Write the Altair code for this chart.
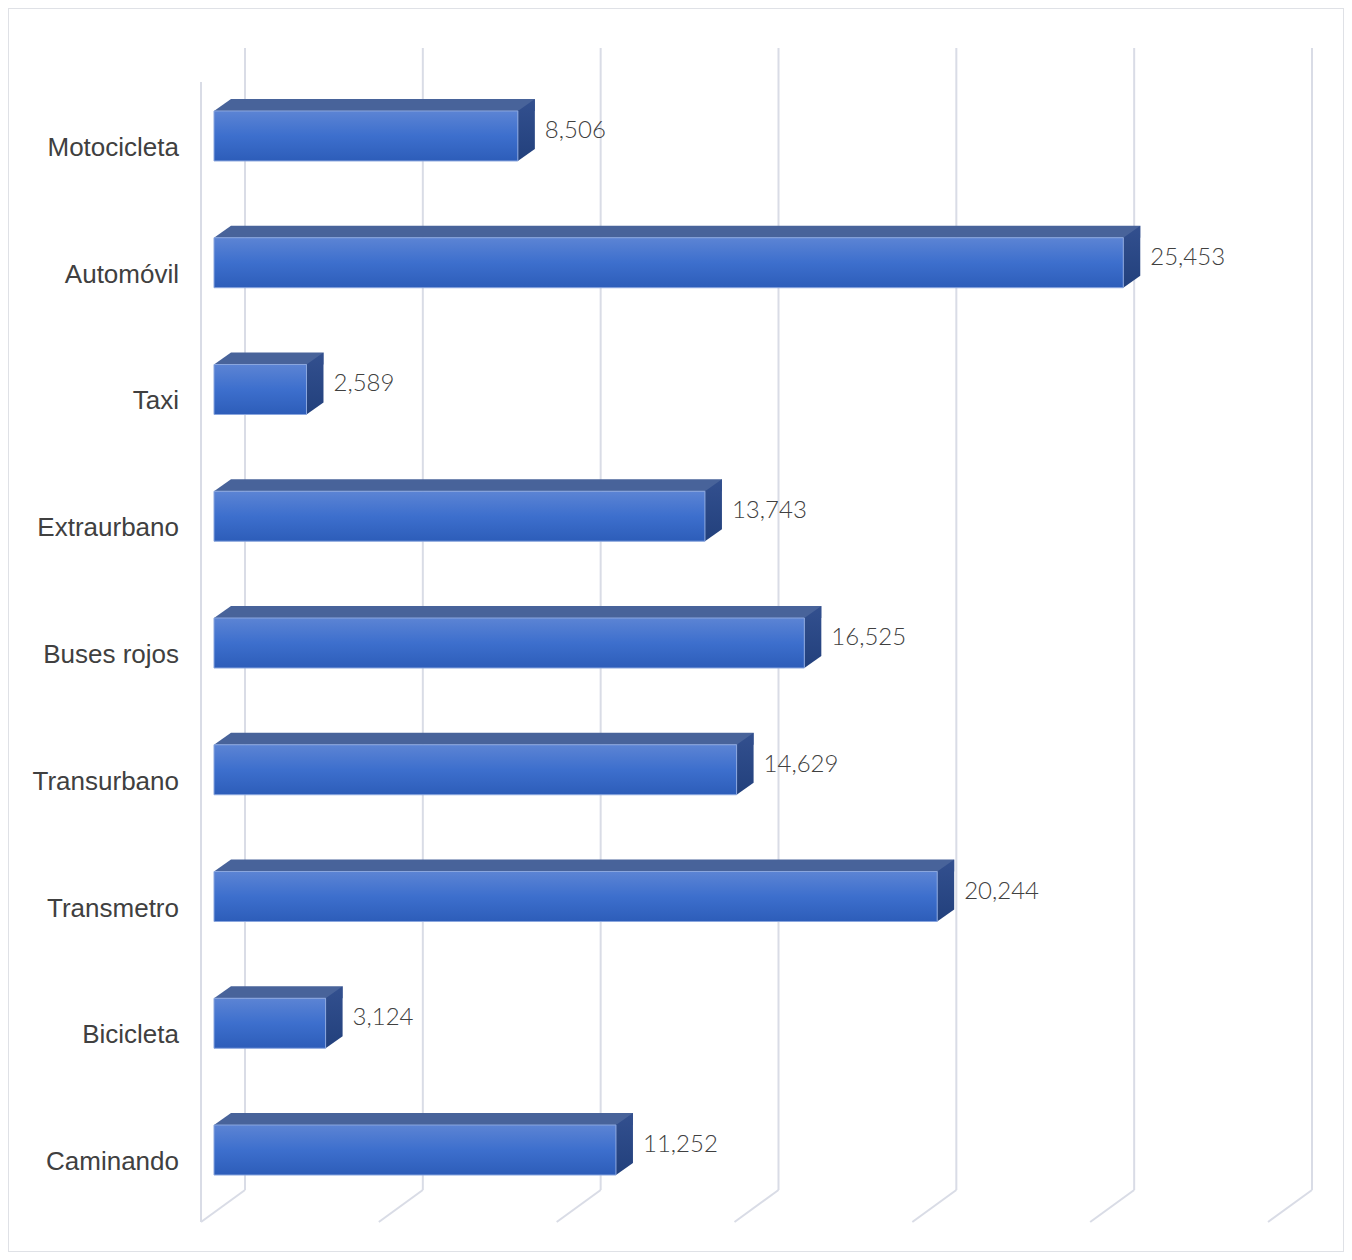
import altair as alt
import pandas as pd

categories = ["Motocicleta", "Automóvil", "Taxi", "Extraurbano", "Buses rojos",
              "Transurbano", "Transmetro", "Bicicleta", "Caminando"]
values = [8506, 25453, 2589, 13743, 16525, 14629, 20244, 3124, 11252]
ticks = [0, 5000, 10000, 15000, 20000, 25000, 30000]

bars = pd.DataFrame({"category": categories, "value": values, "start": [0] * len(values)})
grid = pd.DataFrame({"tick": ticks})

x_front = alt.Scale(domain=[0, 30000], range=[206, 1277.7], nice=False, zero=True)
x_back = alt.Scale(domain=[0, 30000], range=[237, 1304], nice=False, zero=True)
y_sc = alt.Scale(domain=categories, range=[64.6, 1205.4], paddingInner=0, paddingOuter=0)

grid_col = "#d9dce6"
top_col = "#48639a"

front_grad = alt.Gradient(
    gradient="linear", x1=0, x2=0, y1=0, y2=1,
    stops=[alt.GradientStop(color="#5c84d4", offset=0),
           alt.GradientStop(color="#3d6fcd", offset=0.5),
           alt.GradientStop(color="#2d5db9", offset=1)])
side_grad = alt.Gradient(
    gradient="linear", x1=0, x2=0, y1=0, y2=1,
    stops=[alt.GradientStop(color="#33508f", offset=0),
           alt.GradientStop(color="#22407c", offset=1)])

Y = alt.Y("category:N", scale=y_sc, axis=None, sort=categories)

gridlines = alt.Chart(grid).mark_rule(color=grid_col, strokeWidth=2).encode(
    x=alt.X("tick:Q", scale=x_back, axis=None),
    y=alt.value(40), y2=alt.value(1182))

floor = alt.Chart(grid).mark_point(
    shape="M0,0L-4.4,3.2", size=400, filled=False, stroke=grid_col,
    strokeWidth=2, opacity=1).encode(
    x=alt.X("tick:Q", scale=x_back, axis=None),
    y=alt.value(1182))

left_edge = alt.Chart(grid).transform_filter(alt.datum.tick == 0).mark_rule(
    color=grid_col, strokeWidth=2, xOffset=-44).encode(
    x=alt.X("tick:Q", scale=x_back, axis=None),
    y=alt.value(74), y2=alt.value(1214))

base = alt.Chart(bars)

top_face = base.mark_bar(size=12, color=top_col, xOffset=17, x2Offset=17, yOffset=-31).encode(
    x=alt.X("start:Q", scale=x_front, axis=None), x2="value:Q", y=Y)

top_left = base.mark_point(
    shape="M0,-2.5L1.7,-2.5L1.7,-3.7Z", size=400, filled=True, fill=top_col,
    strokeWidth=0, opacity=1).encode(
    x=alt.X("start:Q", scale=x_front, axis=None), y=Y)

side_face = base.mark_point(
    shape="M0,-2.5L1.7,-3.7L1.7,1.3L0,2.5Z", size=400, filled=True, fill=side_grad,
    strokeWidth=0, opacity=1).encode(
    x=alt.X("value:Q", scale=x_front, axis=None), y=Y)

front_face = base.mark_bar(size=50, color=front_grad, stroke="#8aa6de", strokeWidth=1).encode(
    x=alt.X("start:Q", scale=x_front, axis=None), x2="value:Q", y=Y)

value_labels = base.mark_text(
    align="left", baseline="middle", dx=27, dy=-5, font="Lato", fontSize=24,
    fontWeight=300, color="#404040").encode(
    x=alt.X("value:Q", scale=x_front, axis=None), y=Y,
    text=alt.Text("value:Q", format=","))

cat_labels = base.mark_text(
    align="right", baseline="alphabetic", dy=20, font="Liberation Sans", fontSize=26,
    color="#404040").encode(
    x=alt.value(171), y=Y, text="category:N")

chart = alt.layer(
    gridlines, floor, left_edge, top_face, top_left, side_face, front_face,
    value_labels, cat_labels
).resolve_scale(x="independent").properties(
    width=1336, height=1244, padding=0,
    autosize=alt.AutoSizeParams(type="none"),
    background="white"
).configure_view(stroke="#dfe1e6", strokeWidth=2)

chart.save("out.html", embed_options={"renderer": "svg", "actions": False})
